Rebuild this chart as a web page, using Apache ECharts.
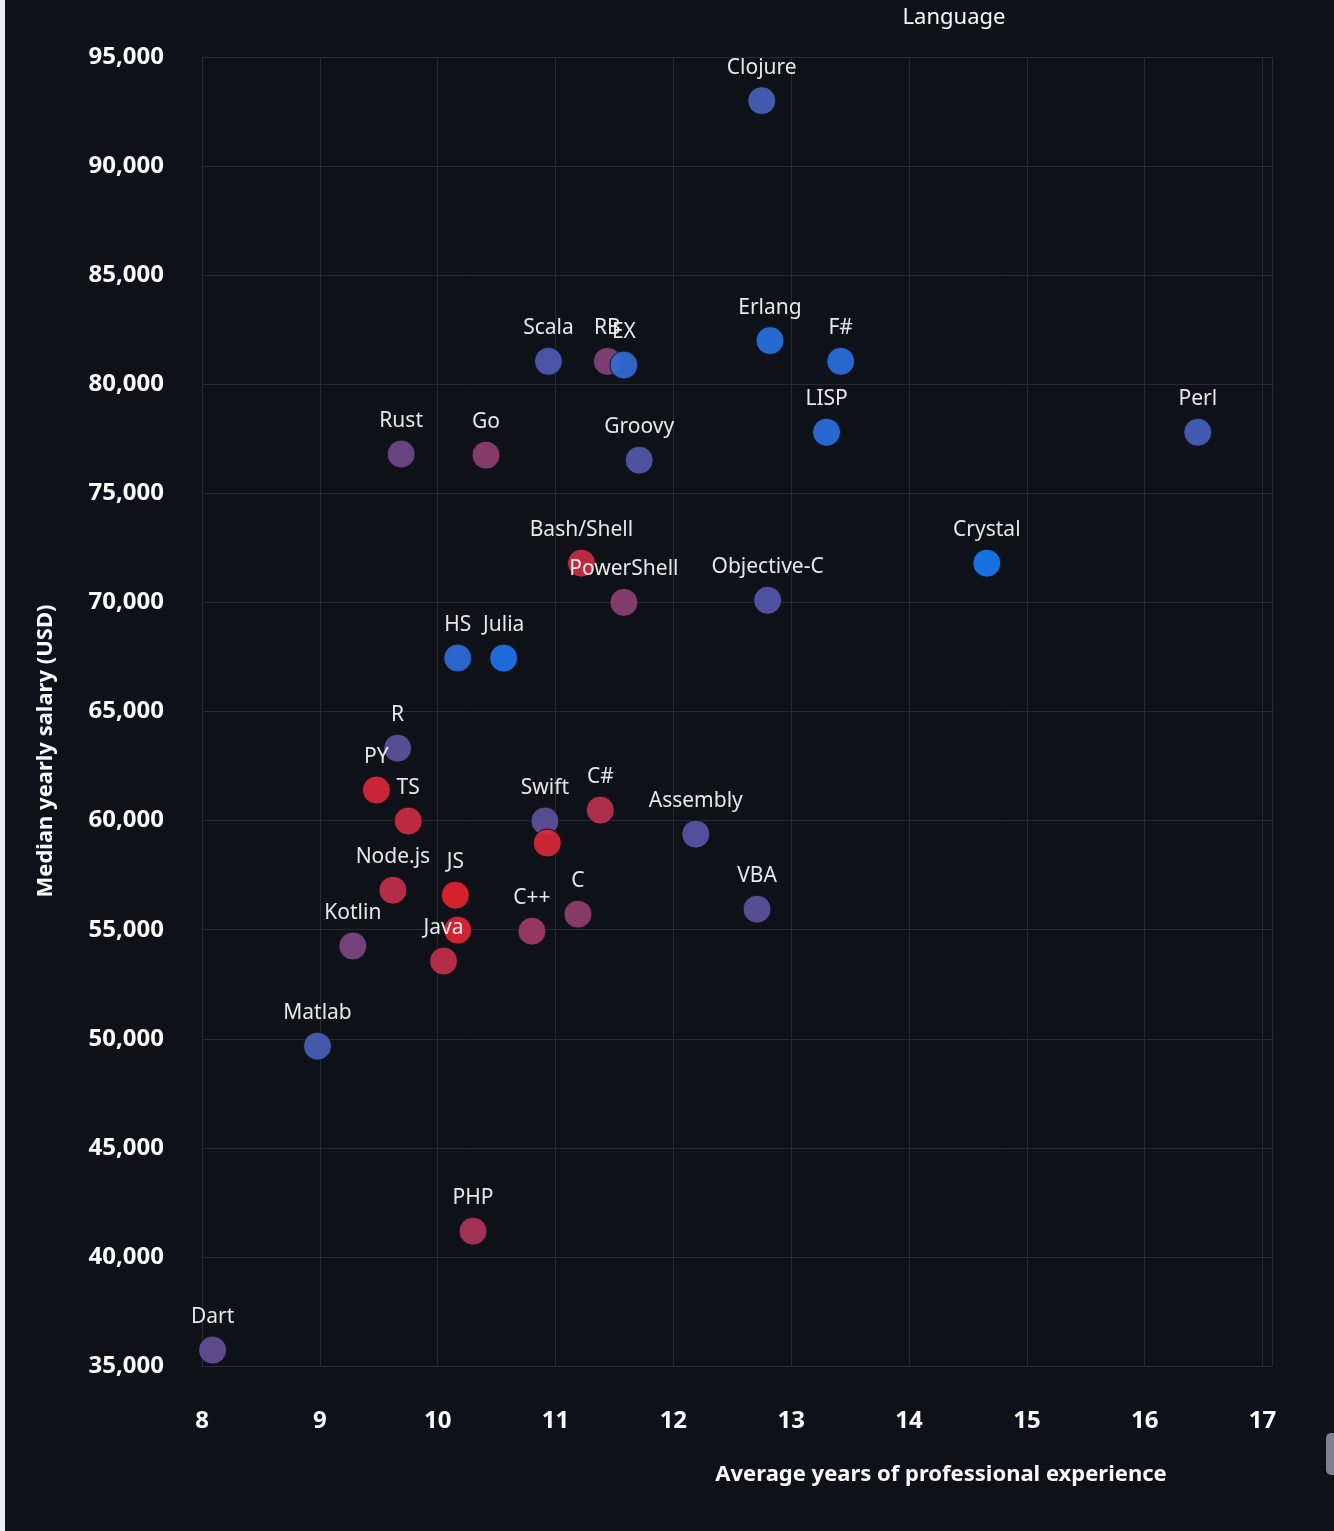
<!DOCTYPE html>
<html>
<head>
<meta charset="utf-8">
<script src="https://cdn.jsdelivr.net/npm/echarts@6/dist/echarts.min.js"></script>
<style>
  html, body { margin: 0; padding: 0; background: #eceef2; }
  #chart { position: absolute; left: 5px; top: 0; width: 1329px; height: 1531px; background: #0e1117; }
</style>
</head>
<body>
<div id="chart"></div>
<script>
// language data (x: avg years of experience, y: median salary, score: colour scale 0 = blue, 1 = red)
const languages = ['Clojure', 'Scala', 'RB', 'EX', 'Erlang', 'F#', 'LISP', 'Perl', 'Rust', 'Go', 'Groovy',
  'Bash/Shell', 'PowerShell', 'Objective-C', 'Crystal', 'HS', 'Julia', 'R', 'PY', 'TS', 'Swift', 'SQL',
  'C#', 'Assembly', 'Node.js', 'JS', 'VBA', 'Kotlin', 'C++', 'C', 'Java', 'HTML/CSS', 'Matlab', 'PHP', 'Dart'];
const years = [12.75, 10.94, 11.44, 11.58, 12.82, 13.42, 13.30, 16.45, 9.69, 10.41, 11.71,
  11.22, 11.58, 12.80, 14.66, 10.17, 10.56, 9.66, 9.48, 9.75, 10.91, 10.93,
  11.38, 12.19, 9.62, 10.15, 12.71, 9.28, 10.80, 11.19, 10.05, 10.17, 8.98, 10.30, 8.09];
const salaries = [93000, 81050, 81050, 80880, 82000, 81050, 77800, 77800, 76800, 76750, 76520,
  71800, 70000, 70100, 71800, 67450, 67450, 63320, 61400, 59980, 59980, 58970,
  60480, 59380, 56810, 56580, 55940, 54250, 54930, 55710, 53560, 54980, 49660, 41180, 35730];
const colorScore = [0.28, 0.32, 0.6, 0.15, 0.08, 0.1, 0.1, 0.27, 0.52, 0.65, 0.36,
  0.9, 0.64, 0.36, 0.0, 0.12, 0.04, 0.42, 0.95, 0.9, 0.44, 0.95,
  0.83, 0.38, 0.86, 1.0, 0.42, 0.57, 0.72, 0.67, 0.86, 0.97, 0.3, 0.78, 0.46];
const unlabeled = ['SQL', 'HTML/CSS'];

const xTicks = { min: 8, max: 17.08, interval: 1 };
const yTicks = { min: 35000, max: 95000, interval: 5000 };

const chart = echarts.init(document.getElementById('chart'));

const points = languages.map((name, i) => ({
  name: name,
  value: [years[i], salaries[i], colorScore[i]],
  label: { show: unlabeled.indexOf(name) < 0 }
}));

const gridColor = '#262a36';
const font = '"Noto Sans", "Open Sans", sans-serif';

const option = {
  backgroundColor: '#0e1117',
  animation: false,
  grid: { left: 197, right: 62, top: 57, bottom: 165 },
  xAxis: {
    type: 'value',
    min: xTicks.min,
    max: xTicks.max,
    interval: xTicks.interval,
    axisLine: { show: true, lineStyle: { color: gridColor } },
    axisTick: { show: false },
    splitLine: { show: true, lineStyle: { color: gridColor } },
    axisLabel: {
      color: '#fafafa', fontFamily: font, fontWeight: 'bold', fontSize: 24, margin: 43,
      formatter: v => Number.isInteger(v) ? String(v) : ''
    }
  },
  yAxis: {
    type: 'value',
    min: yTicks.min,
    max: yTicks.max,
    interval: yTicks.interval,
    axisLine: { show: true, lineStyle: { color: gridColor } },
    axisTick: { show: false },
    splitLine: { show: true, lineStyle: { color: gridColor } },
    axisLabel: {
      color: '#fafafa', fontFamily: font, fontWeight: 'bold', fontSize: 24, margin: 38,
      formatter: v => v.toLocaleString('en-US')
    }
  },
  visualMap: {
    show: false,
    type: 'continuous',
    dimension: 2,
    min: 0,
    max: 1,
    inRange: { color: ['#1a78f2', '#6a4b8e', '#e42430'] }
  },
  series: [
    {
      type: 'scatter',
      symbolSize: 28,
      data: points,
      itemStyle: { opacity: 0.92, borderColor: '#0e1117', borderWidth: 1 },
      label: {
        show: true,
        position: 'top',
        distance: 8,
        color: '#fafafa',
        fontFamily: font,
        fontSize: 21,
        formatter: p => p.name
      }
    }
  ],
  graphic: [
    {
      type: 'text', x: 949, y: 18,
      style: { text: 'Language', fill: '#fafafa', font: '22px ' + font, align: 'center', verticalAlign: 'middle' }
    },
    {
      type: 'text', x: 41, y: 751, rotation: Math.PI / 2,
      style: { text: 'Median yearly salary (USD)', fill: '#fafafa', font: 'bold 22px ' + font,
        align: 'center', verticalAlign: 'middle' }
    },
    {
      type: 'text', x: 936, y: 1475,
      style: { text: 'Average years of professional experience', fill: '#fafafa', font: 'bold 22px ' + font,
        align: 'center', verticalAlign: 'middle' }
    },
    {
      type: 'rect', shape: { x: 1321, y: 1433, width: 12, height: 42, r: 5 },
      style: { fill: '#7d8090' }
    }
  ]
};

chart.setOption(option);
</script>
</body>
</html>
